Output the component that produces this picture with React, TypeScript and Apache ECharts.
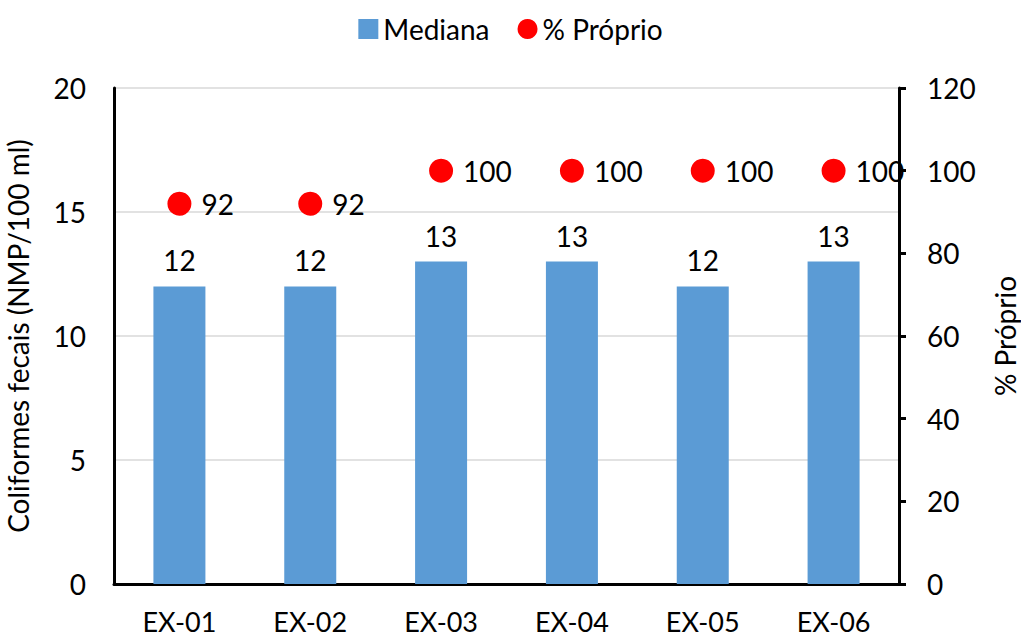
import React, { useEffect, useRef } from "react";
import * as echarts from "echarts";

const categories = ["EX-01", "EX-02", "EX-03", "EX-04", "EX-05", "EX-06"];
const mediana = [12, 12, 13, 13, 12, 13];
const proprio = [92, 92, 100, 100, 100, 100];

const FONT = "Lato, 'Open Sans', sans-serif";
const FS = 28;

export default function App() {
  const ref = useRef<HTMLDivElement>(null);
  useEffect(() => {
    if (!ref.current) return;
    const chart = echarts.init(ref.current, null, { renderer: "svg" });
    chart.setOption({
      animation: false,
      textStyle: { fontFamily: FONT, color: "#000" },
      legend: {
        top: 10,
        left: "center",
        itemGap: 28,
        itemWidth: 20,
        itemHeight: 20,
        textStyle: { fontSize: FS, fontFamily: FONT, color: "#000" },
        data: [
          { name: "Mediana", icon: "rect" },
          { name: "% Próprio", icon: "circle" },
        ],
      },
      grid: { left: 114, right: 122, top: 88, bottom: 53, containLabel: false, outerBoundsMode: "none" },
      xAxis: {
        type: "category",
        data: categories,
        axisLine: { lineStyle: { color: "#000", width: 3 } },
        axisTick: { show: false },
        axisLabel: { fontSize: 27, lineHeight: 26, color: "#000", margin: 24, fontFamily: FONT },
      },
      yAxis: [
        {
          type: "value",
          min: 0,
          max: 20,
          interval: 5,
          name: "Coliformes fecais (NMP/100 ml)",
          nameLocation: "middle",
          nameRotate: 90,
          nameGap: 82,
          nameTextStyle: { fontSize: FS, color: "#000", fontFamily: FONT },
          axisLine: { show: true, lineStyle: { color: "#000", width: 3 } },
          axisTick: { show: false },
          axisLabel: { fontSize: FS, color: "#000", margin: 28, fontFamily: FONT },
          splitLine: { show: true, lineStyle: { color: "#d9d9d9", width: 1.5 } },
        },
        {
          type: "value",
          min: 0,
          max: 120,
          interval: 20,
          position: "right",
          name: "% Próprio",
          nameLocation: "middle",
          nameRotate: 90,
          nameGap: 92,
          nameTextStyle: { fontSize: FS, color: "#000", fontFamily: FONT },
          axisLine: { show: true, lineStyle: { color: "#000", width: 3 } },
          axisTick: { show: true, inside: false, length: 7, lineStyle: { color: "#000", width: 3 } },
          axisLabel: { fontSize: FS, color: "#000", margin: 28, fontFamily: FONT },
          splitLine: { show: false },
        },
      ],
      series: [
        {
          name: "Mediana",
          type: "bar",
          data: mediana,
          barWidth: 52,
          itemStyle: { color: "#5b9bd5" },
          label: {
            show: true,
            position: "top",
            distance: 12,
            fontSize: FS,
            color: "#000",
            fontFamily: FONT,
          },
        },
        {
          name: "% Próprio",
          type: "scatter",
          yAxisIndex: 1,
          data: proprio,
          symbol: "circle",
          symbolSize: 24,
          itemStyle: { color: "#ff0000", opacity: 1 },
          label: {
            show: true,
            position: "right",
            distance: 10,
            fontSize: FS,
            color: "#000",
            fontFamily: FONT,
          },
          z: 5,
        },
      ],
    });
    return () => chart.dispose();
  }, []);
  return <div ref={ref} style={{ width: 1021, height: 637, position: "absolute", left: 0, top: 0 }} />;
}
